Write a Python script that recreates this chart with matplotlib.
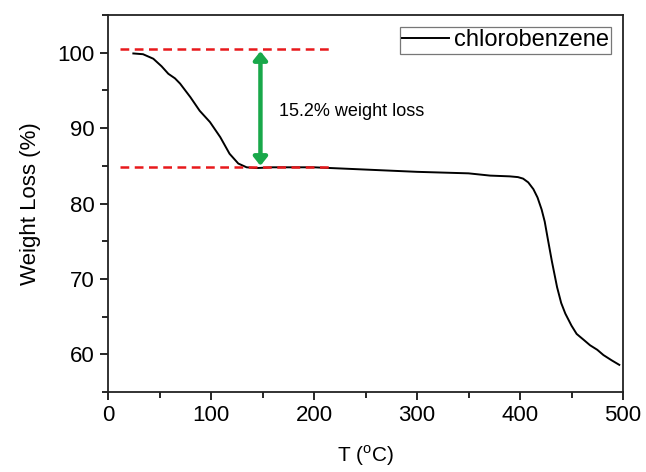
import matplotlib
matplotlib.use("Agg")
import matplotlib.pyplot as plt
from matplotlib.ticker import MultipleLocator

plt.rcParams['font.family'] = ['Liberation Sans', 'DejaVu Sans']
plt.rcParams['mathtext.fontset'] = 'custom'
plt.rcParams['mathtext.rm'] = 'Liberation Sans'

temp = [24.6, 34, 44, 52, 58.6, 65, 70, 80, 89, 99, 109, 118, 126.5, 134.6, 144, 160, 200,
        250, 300, 350, 371, 390, 398, 403, 408, 413, 417, 421, 424, 427, 431, 436, 440, 444,
        450, 455, 462, 468, 475, 481, 489, 496.4]
weight = [99.9, 99.8, 99.2, 98.2, 97.2, 96.6, 95.9, 94.1, 92.3, 90.8, 88.8, 86.6, 85.3, 84.8,
          84.7, 84.8, 84.8, 84.5, 84.2, 84.0, 83.7, 83.6, 83.5, 83.3, 82.8, 81.9, 80.8,
          79.2, 77.6, 75.3, 72.3, 68.9, 66.8, 65.4, 63.8, 62.7, 61.9, 61.2, 60.6, 59.9, 59.2, 58.6]

upper_level = 100.5
lower_level = 84.9
dash_range = [12, 215]
arrow_x = 148
loss_text = "15.2% weight loss"
series_label = "chlorobenzene"

fig = plt.figure(figsize=(6.46, 4.72), dpi=100)
ax = fig.add_axes([108/646, 1-392/472, (623-108)/646, (392-15)/472])

ax.plot(temp, weight, color='black', lw=1.4, label=series_label)
ax.plot(dash_range, [upper_level]*2, color='#e8191c', ls=(0, (3.5, 2.2)), lw=1.8)
ax.plot(dash_range, [lower_level]*2, color='#e8191c', ls=(0, (3.5, 2.2)), lw=1.8)
ax.annotate('', xy=(arrow_x, upper_level - 0.3), xytext=(arrow_x, lower_level + 0.1),
            arrowprops=dict(arrowstyle='<|-|>,head_length=0.5,head_width=0.4',
                            color='#19a84a', lw=3.2, shrinkA=0, shrinkB=0))
ax.text(166, 92.2, loss_text, fontsize=13, va='center', ha='left')

ax.set_xlim(0, 500)
ax.set_ylim(55, 105)
ax.xaxis.set_major_locator(MultipleLocator(100))
ax.xaxis.set_minor_locator(MultipleLocator(50))
ax.yaxis.set_major_locator(MultipleLocator(10))
ax.yaxis.set_minor_locator(MultipleLocator(5))
ax.set_yticks([60, 70, 80, 90, 100])
ax.tick_params(which='both', direction='out', top=False, right=False, labelsize=16, width=1.2)
ax.tick_params(which='major', length=6)
ax.tick_params(which='minor', length=4)
for s in ax.spines.values():
    s.set_linewidth(1.3)
    s.set_color('#222222')

ax.set_xlabel('T ($^{\\mathrm{o}}$C)', fontsize=15, labelpad=12)
ax.set_ylabel('Weight Loss (%)', fontsize=16, labelpad=12)

leg = ax.legend(loc='upper right', fontsize=17, frameon=True, fancybox=False,
                handlelength=2.0, handletextpad=0.2, borderpad=0.1,
                borderaxespad=0.5)
leg.get_frame().set_edgecolor('#555555')
leg.get_frame().set_linewidth(0.9)

fig.savefig('out.png', dpi=100)
